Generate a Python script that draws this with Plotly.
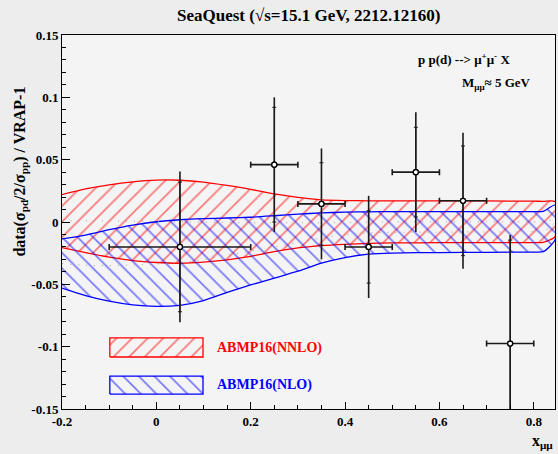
import plotly.graph_objects as go

# ---- theory bands: ABMP16 NNLO / NLO uncertainty envelopes ----
x_grid = [-0.2, -0.15, -0.1, -0.05, 0.0, 0.05, 0.1, 0.15, 0.2, 0.25,
          0.3, 0.35, 0.4, 0.45, 0.5, 0.6, 0.7, 0.8, 0.82, 0.845]

nnlo_upper = [0.0220, 0.0265, 0.0298, 0.0322, 0.0336, 0.0335, 0.0320, 0.0293, 0.0262, 0.0225,
              0.0197, 0.0178, 0.0172, 0.0170, 0.0170, 0.0170, 0.0169, 0.0167, 0.0166, 0.0165]
nnlo_lower = [-0.0205, -0.0245, -0.0282, -0.0310, -0.0325, -0.0331, -0.0322, -0.0303, -0.0275, -0.0238,
              -0.0208, -0.0190, -0.0179, -0.0172, -0.0168, -0.0166, -0.0165, -0.0165, -0.0163, -0.0118]

nlo_upper = [-0.0135, -0.0105, -0.0062, -0.0025, 0.0002, 0.0018, 0.0027, 0.0032, 0.0038, 0.0050,
             0.0063, 0.0073, 0.0079, 0.0082, 0.0083, 0.0083, 0.0083, 0.0083, 0.0085, 0.0136]
nlo_lower = [-0.0530, -0.0590, -0.0635, -0.0665, -0.0677, -0.0668, -0.0630, -0.0565, -0.0505, -0.0450,
             -0.0395, -0.0330, -0.0285, -0.0258, -0.0249, -0.0245, -0.0243, -0.0241, -0.0238, -0.0144]

# ---- SeaQuest data ----
data_x = [0.05, 0.25, 0.35, 0.45, 0.55, 0.65, 0.75]
data_xerr = [0.15, 0.05, 0.05, 0.05, 0.05, 0.05, 0.05]
data_y = [-0.020, 0.046, 0.0145, -0.020, 0.040, 0.017, -0.0975]
data_err_tot = [0.0605, 0.054, 0.0445, 0.041, 0.048, 0.0545, 0.087]
data_err_stat = [0.052, 0.046, 0.033, 0.029, 0.036, 0.044, 0.083]

x_ticks = [-0.2, 0.0, 0.2, 0.4, 0.6, 0.8]
x_ticklabels = ["-0.2", "0", "0.2", "0.4", "0.6", "0.8"]
y_ticks = [-0.15, -0.1, -0.05, 0.0, 0.05, 0.1, 0.15]
y_ticklabels = ["-0.15", "-0.1", "-0.05", "0", "0.05", "0.1", "0.15"]

band_labels = ["ABMP16(NNLO)", "ABMP16(NLO)"]

SERIF = "Liberation Serif"
RED = "#ff0000"
BLUE = "#0000ff"

fig = go.Figure()

HATCH = dict(size=11, solidity=0.16, bgcolor="rgba(0,0,0,0)")


def band(upper, lower, color, shape):
    fig.add_trace(go.Scatter(
        x=x_grid + x_grid[::-1],
        y=upper + lower[::-1],
        mode="lines",
        fill="toself",
        fillcolor="rgba(0,0,0,0)",
        fillpattern=dict(shape=shape, fgcolor=color, **HATCH),
        line=dict(color=color, width=1.3, shape="spline", smoothing=0.6),
        hoverinfo="skip",
        showlegend=False,
    ))


band(nnlo_upper, nnlo_lower, RED, "/")
band(nlo_upper, nlo_lower, BLUE, "\\")

# faint dotted central curves of the two bands
for up, lo in ((nnlo_upper, nnlo_lower), (nlo_upper, nlo_lower)):
    fig.add_trace(go.Scatter(
        x=x_grid, y=[(a + b) / 2 for a, b in zip(up, lo)],
        mode="lines", line=dict(color="#a0a0a0", width=1, dash="1px,7px", shape="spline"),
        hoverinfo="skip", showlegend=False,
    ))

# total uncertainty (no caps) + horizontal bin width
fig.add_trace(go.Scatter(
    x=data_x, y=data_y, mode="markers",
    marker=dict(size=5, color="white", line=dict(color="black", width=1.3)),
    error_y=dict(type="data", array=data_err_tot, color="#1a1a1a", thickness=1.6, width=0),
    error_x=dict(type="data", array=data_xerr, color="#1a1a1a", thickness=1.6, width=3),
    showlegend=False,
))
# statistical uncertainty marked with small ticks
fig.add_trace(go.Scatter(
    x=data_x, y=data_y, mode="markers",
    marker=dict(size=5, color="white", line=dict(color="black", width=1.3)),
    error_y=dict(type="data", array=data_err_stat, color="#1a1a1a", thickness=1.0, width=2),
    showlegend=False,
))

# legend swatches on an overlay [0,1] frame
swatches = [((0.097, 0.286), (0.139, 0.190), RED, "/"),
            ((0.097, 0.286), (0.040, 0.088), BLUE, "\\")]
for (x0, x1), (y0, y1), color, shape in swatches:
    fig.add_trace(go.Scatter(
        x=[x0, x1, x1, x0, x0], y=[y0, y0, y1, y1, y0],
        xaxis="x2", yaxis="y2", mode="lines", fill="toself",
        fillcolor="rgba(0,0,0,0)",
        fillpattern=dict(shape=shape, fgcolor=color, **HATCH),
        line=dict(color=color, width=1.3),
        hoverinfo="skip", showlegend=False,
    ))

annotations = [
    dict(text="<b>SeaQuest (√s=15.1 GeV, 2212.12160)</b>", x=0.5, y=1.0,
         xref="paper", yref="paper", xanchor="center", yanchor="bottom", yshift=8,
         showarrow=False, font=dict(family=SERIF, size=17, color="black")),
    dict(text="<b>data(σ<sub>pd</sub>/2/σ<sub>pp</sub>) / VRAP-1</b>", x=-0.085, y=0.635,
         xref="paper", yref="paper", xanchor="center", yanchor="middle",
         textangle=-90, showarrow=False, font=dict(family=SERIF, size=16, color="black")),
    dict(text="<b>x<sub>μμ</sub></b>", x=1.0, y=-0.055, xref="paper", yref="paper",
         xanchor="right", yanchor="top", showarrow=False,
         font=dict(family=SERIF, size=16, color="black")),
    dict(text="<b>p p(d) --> μ<sup>+</sup>μ<sup>-</sup> X</b>", x=0.913, y=0.937,
         xref="paper", yref="paper", xanchor="right", yanchor="middle", showarrow=False,
         font=dict(family=SERIF, size=13, color="black")),
    dict(text="<b>M<sub>μμ</sub>≈ 5 GeV</b>", x=0.955, y=0.87,
         xref="paper", yref="paper", xanchor="right", yanchor="middle", showarrow=False,
         font=dict(family=SERIF, size=13, color="black")),
    dict(text="<b>" + band_labels[0] + "</b>", x=0.31, y=0.163, xref="paper", yref="paper",
         xanchor="left", yanchor="middle", showarrow=False,
         font=dict(family=SERIF, size=14, color=RED)),
    dict(text="<b>" + band_labels[1] + "</b>", x=0.31, y=0.064, xref="paper", yref="paper",
         xanchor="left", yanchor="middle", showarrow=False,
         font=dict(family=SERIF, size=14, color=BLUE)),
]

axis_font = dict(family=SERIF, size=13, color="black", weight="bold")

fig.update_layout(
    width=558, height=454,
    margin=dict(l=62, r=3, t=35, b=45),
    paper_bgcolor="#ededed",
    plot_bgcolor="#f4f4f4",
    showlegend=False,
    annotations=annotations,
    xaxis=dict(
        range=[-0.2, 0.845], tickvals=x_ticks, ticktext=x_ticklabels,
        ticks="inside", ticklen=7, tickwidth=1, tickcolor="black",
        minor=dict(dtick=0.05, tick0=0, ticks="inside", ticklen=4, tickcolor="black"),
        showline=True, linecolor="black", linewidth=1, mirror=True,
        showgrid=False, zeroline=False, tickfont=axis_font, layer="above traces",
    ),
    yaxis=dict(
        range=[-0.15, 0.15], tickvals=y_ticks, ticktext=y_ticklabels,
        ticks="inside", ticklen=8, tickwidth=1, tickcolor="black",
        minor=dict(dtick=0.01, tick0=0, ticks="inside", ticklen=4, tickcolor="black"),
        showline=True, linecolor="black", linewidth=1, mirror=True,
        showgrid=False, zeroline=False, tickfont=axis_font, layer="above traces",
    ),
    xaxis2=dict(overlaying="x", range=[0, 1], visible=False, anchor="y2"),
    yaxis2=dict(overlaying="y", range=[0, 1], visible=False, anchor="x2"),
)

fig.write_html("out.html")
